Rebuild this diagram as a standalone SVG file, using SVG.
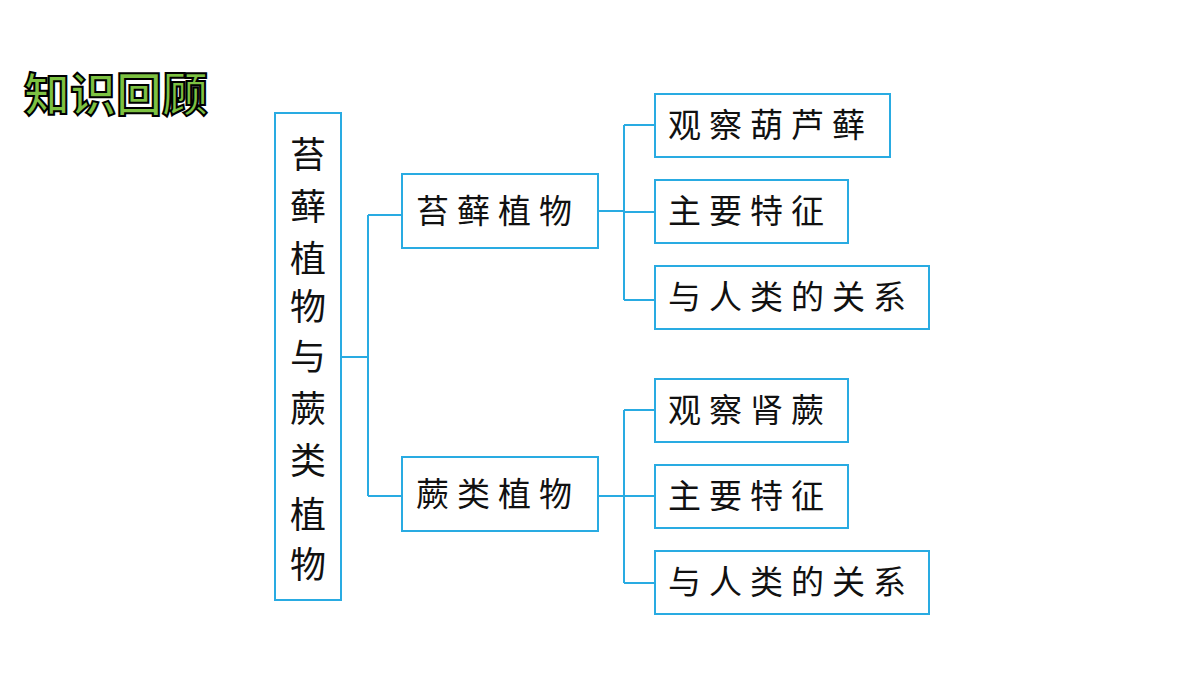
<svg xmlns="http://www.w3.org/2000/svg" width="1200" height="675" viewBox="0 0 1200 675">
<style>
.b{fill:#fff;stroke:#29abe2;stroke-width:2}
.t{font-family:"Noto Sans CJK SC",sans-serif;font-size:33px;fill:#111;letter-spacing:8px}
.v{font-family:"Noto Sans CJK SC",sans-serif;font-size:36px;fill:#111;text-anchor:middle}
#conn path{fill:none;stroke:#29abe2;stroke-width:2}
</style>
<rect width="1200" height="675" fill="#fff"/>
<text x="24" y="111" font-family="Noto Sans CJK SC,sans-serif" font-size="46" font-weight="bold" fill="#7dc242" stroke="#000" stroke-width="2">知识回顾</text>
<g id="conn">
<path d="M341 357H368M368 215V496M368 215H402M368 496H402"/>
<path d="M598 211H624M624 125V300M624 125H655M624 212H655M624 300H655"/>
<path d="M598 496H624M624 410V583M624 410H655M624 496H655M624 583H655"/>
</g>
<g id="root"><rect class="b" x="275" y="113" width="66" height="487"/>
<text class="v" x="308"><tspan x="308" y="168">苔</tspan><tspan x="308" y="220">藓</tspan><tspan x="308" y="272">植</tspan><tspan x="308" y="320">物</tspan><tspan x="308" y="370">与</tspan><tspan x="308" y="422">蕨</tspan><tspan x="308" y="474">类</tspan><tspan x="308" y="528">植</tspan><tspan x="308" y="578">物</tspan></text></g>
<g id="moss"><rect class="b" x="402" y="174" width="196" height="74"/><text class="t" x="416" y="223">苔藓植物</text></g>
<g id="fern"><rect class="b" x="402" y="457" width="196" height="74"/><text class="t" x="416" y="506">蕨类植物</text></g>
<g id="m1"><rect class="b" x="655" y="94" width="235" height="63"/><text class="t" x="668" y="137">观察葫芦藓</text></g>
<g id="m2"><rect class="b" x="655" y="180" width="193" height="63"/><text class="t" x="668" y="223">主要特征</text></g>
<g id="m3"><rect class="b" x="655" y="266" width="274" height="63"/><text class="t" x="668" y="309">与人类的关系</text></g>
<g id="f1"><rect class="b" x="655" y="379" width="193" height="63"/><text class="t" x="668" y="422">观察肾蕨</text></g>
<g id="f2"><rect class="b" x="655" y="465" width="193" height="63"/><text class="t" x="668" y="508">主要特征</text></g>
<g id="f3"><rect class="b" x="655" y="551" width="274" height="63"/><text class="t" x="668" y="594">与人类的关系</text></g>
</svg>
